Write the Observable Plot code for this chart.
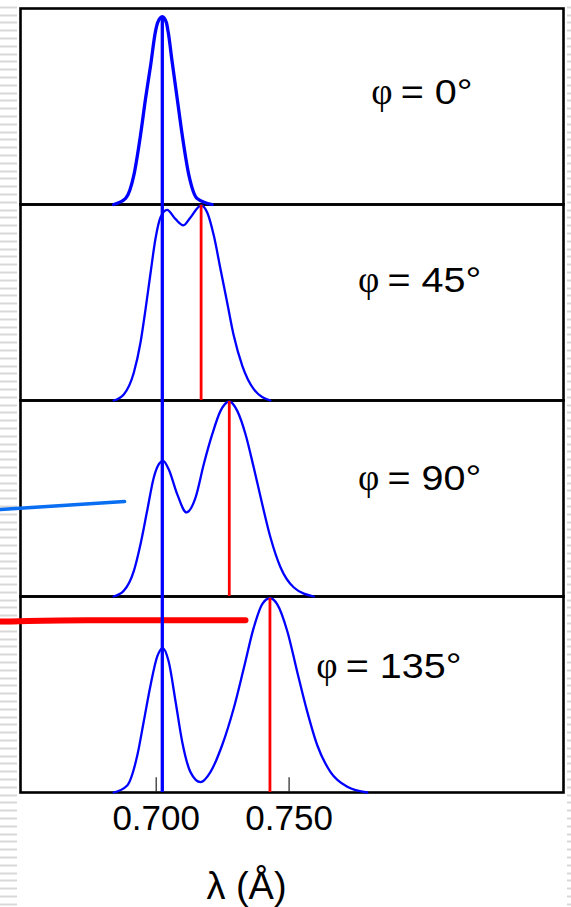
<!DOCTYPE html>
<html>
<head>
<meta charset="utf-8">
<script src="https://cdn.jsdelivr.net/npm/d3@7"></script>
<script src="https://cdn.jsdelivr.net/npm/@observablehq/plot@0.6"></script>
<style>
  html, body { margin: 0; padding: 0; background: #fff; }
  #wrap { position: relative; width: 571px; height: 907px; overflow: hidden; }
  .edge {
    position: absolute; top: 0; height: 907px;
    background: repeating-linear-gradient(to bottom, transparent 0, transparent 5.8px, #d8d8d8 5.8px, #d8d8d8 7.8px);
    background-position: 0 0.5px;
  }
  #wrap svg { position: absolute; left: 0; top: 0; }
</style>
</head>
<body>
<div id="wrap">
  <div class="edge" style="left:0;width:17px"></div>
  <div class="edge" style="left:567px;width:4px"></div>
</div>
<script>
// Scattering angles, one panel each
const angles = ["0°", "45°", "90°", "135°"];

// Unshifted (primary) line and the Compton-shifted lines, wavelength in Å
const lambdaPrimary = 0.7023;
const primaryTop0 = 95.8;                 // height of the primary peak at 0°
const comptonLambda = [0.7169, 0.7275, 0.7428]; // 45°, 90°, 135°
const comptonTop = [99.6, 99.5, 99.1];

// Measured spectra: wavelength (Å) and relative intensity
const lam0 = [0.6840, 0.6885, 0.6916, 0.6941, 0.6960, 0.6979, 0.6997, 0.7006, 0.7023, 0.7038, 0.7045, 0.7060, 0.7079, 0.7098, 0.7123, 0.7154, 0.7211];
const int0 = [0, 3.1, 15.0, 35.4, 54.1, 70.9, 88.1, 92.9, 95.8, 92.9, 88.1, 72.8, 54.1, 35.4, 15.0, 3.1, 0];

const lam45 = [0.6840, 0.6878, 0.6916, 0.6941, 0.6960, 0.6979, 0.6997, 0.7016, 0.7041, 0.7073, 0.7102, 0.7129, 0.7169, 0.7192, 0.7217, 0.7242, 0.7267, 0.7292, 0.7324, 0.7367, 0.7430];
const int45 = [0, 3.1, 14.3, 29.6, 46.6, 65.3, 82.3, 93.4, 97.3, 92.5, 89.4, 93.4, 99.6, 95.9, 84.0, 67.0, 50.0, 33.0, 17.7, 5.8, 0];

const lam90 = [0.6840, 0.6878, 0.6916, 0.6941, 0.6966, 0.6991, 0.7010, 0.7026, 0.7047, 0.7079, 0.7114, 0.7148, 0.7179, 0.7211, 0.7242, 0.7275, 0.7305, 0.7336, 0.7367, 0.7399, 0.7430, 0.7468, 0.7518, 0.7593];
const int90 = [0, 2.9, 13.1, 26.7, 43.7, 60.7, 67.5, 69.2, 64.9, 52.2, 42.9, 50.5, 67.5, 82.8, 94.7, 99.5, 94.7, 82.8, 65.8, 47.1, 30.1, 14.8, 4.6, 0];

const lam135 = [0.6840, 0.6891, 0.6929, 0.6953, 0.6979, 0.7004, 0.7025, 0.7047, 0.7073, 0.7098, 0.7129, 0.7167, 0.7204, 0.7248, 0.7292, 0.7330, 0.7367, 0.7399, 0.7428, 0.7455, 0.7493, 0.7530, 0.7568, 0.7606, 0.7656, 0.7719, 0.7794];
const int135 = [0, 3.6, 19.0, 36.1, 54.9, 69.4, 73.7, 66.8, 46.3, 25.8, 10.4, 5.3, 10.4, 24.1, 43.1, 63.6, 84.1, 96.1, 99.1, 96.1, 82.4, 61.9, 41.4, 24.1, 10.4, 2.9, 0];

// Axis ticks (Å)
const xTicks = [0.700, 0.750];

// Pointer lines coming in from the left of the slide
const blueCalloutLam = [0.6414, 0.6881];
const blueCalloutInt = [44.4, 48.5];
const redCalloutLam = [0.6414, 0.6640, 0.7336];
const redCalloutInt = [87.2, 87.8, 87.9];

// ---- tables for the marks ----
const series = [[lam0, int0], [lam45, int45], [lam90, int90], [lam135, int135]];
const spectra = series.flatMap(([L, I], k) =>
  L.map((lambda, i) => ({angle: angles[k], lambda, intensity: I[i]})));

const primaryRules = angles.map((angle, k) => ({angle, lambda: lambdaPrimary, top: k === 0 ? primaryTop0 : 100}));
const comptonRules = comptonLambda.map((lambda, k) => ({angle: angles[k + 1], lambda, top: comptonTop[k]}));
const tickRows = xTicks.map((v) => ({angle: angles[3], v}));
const blueCallout = blueCalloutLam.map((lambda, i) => ({angle: angles[2], lambda, intensity: blueCalloutInt[i]}));
const redCallout = redCalloutLam.map((lambda, i) => ({angle: angles[3], lambda, intensity: redCalloutInt[i]}));

// panel captions, anchored in data units inside each panel
const captionLam = [0.7809, 0.7759, 0.7759, 0.7602];
const captionInt = [51.4, 55.3, 54.4, 58.5];
const captions = angles.map((angle, k) => ({angle, text: "= " + angle, lx: captionLam[k], ly: captionInt[k]}));

const BLUE = "#0000ff";
const RED = "#ff0000";

const chart = Plot.plot({
  width: 571,
  height: 907,
  marginTop: 8,
  marginBottom: 115,
  marginLeft: 20,
  marginRight: 8,
  style: {
    background: "transparent",
    overflow: "visible",
    fontFamily: "'Liberation Sans', Arial, sans-serif",
    fontSize: "35px",
    color: "#000"
  },
  x: {
    domain: [0.64895, 0.85324],
    ticks: xTicks,
    tickFormat: d3.format(".3f"),
    tickSize: 0,
    tickPadding: 13,
    label: null
  },
  y: {domain: [0, 100], axis: null},
  fy: {domain: angles, axis: null, padding: 0},
  marks: [
    Plot.frame({stroke: "#000", strokeWidth: 2.6}),
    Plot.ruleX(tickRows, {fy: "angle", x: "v", y1: 0, y2: 7.5, stroke: "#222", strokeWidth: 1.2}),
    Plot.line(spectra.filter((d) => d.angle === angles[0]), {
      fy: "angle", x: "lambda", y: "intensity", stroke: BLUE, strokeWidth: 3.3, curve: "monotone-x"
    }),
    Plot.line(spectra.filter((d) => d.angle !== angles[0]), {
      fy: "angle", x: "lambda", y: "intensity", z: "angle", stroke: BLUE, strokeWidth: 2.3, curve: "monotone-x"
    }),
    Plot.ruleX(comptonRules, {fy: "angle", x: "lambda", y1: 0, y2: "top", stroke: RED, strokeWidth: 2.8}),
    Plot.line(redCallout, {fy: "angle", x: "lambda", y: "intensity", stroke: RED, strokeWidth: 6, curve: "monotone-x"}),
    Plot.ruleX(primaryRules, {fy: "angle", x: "lambda", y1: 0, y2: "top", stroke: BLUE, strokeWidth: 3.3}),
    Plot.line(blueCallout, {fy: "angle", x: "lambda", y: "intensity", stroke: "#0a6ef2", strokeWidth: 3.6}),
    Plot.text(captions, {
      fy: "angle", x: "lx", y: "ly", text: () => "φ",
      fontFamily: "'Liberation Serif', 'Times New Roman', serif", fontSize: 37,
      textAnchor: "start", lineAnchor: "bottom", fill: "#000"
    }),
    Plot.text(captions, {
      fy: "angle", x: "lx", y: "ly", text: "text", dx: 29.5,
      fontSize: 35, textAnchor: "start", lineAnchor: "bottom", fill: "#000"
    }),
    Plot.text([{angle: angles[3]}], {
      fy: "angle", frameAnchor: "bottom", text: () => "λ (Å)",
      dx: -45.5, dy: 106, fontSize: 38, lineAnchor: "bottom", fill: "#000"
    })
  ]
});

// the angle captions are set in a wide face: stretch them horizontally
chart.querySelectorAll("text").forEach((t) => {
  if (!t.textContent.startsWith("= ")) return;
  t.setAttribute("transform", (t.getAttribute("transform") || "") + " scale(1.13,1)");
});

document.getElementById("wrap").appendChild(chart);
</script>
</body>
</html>
